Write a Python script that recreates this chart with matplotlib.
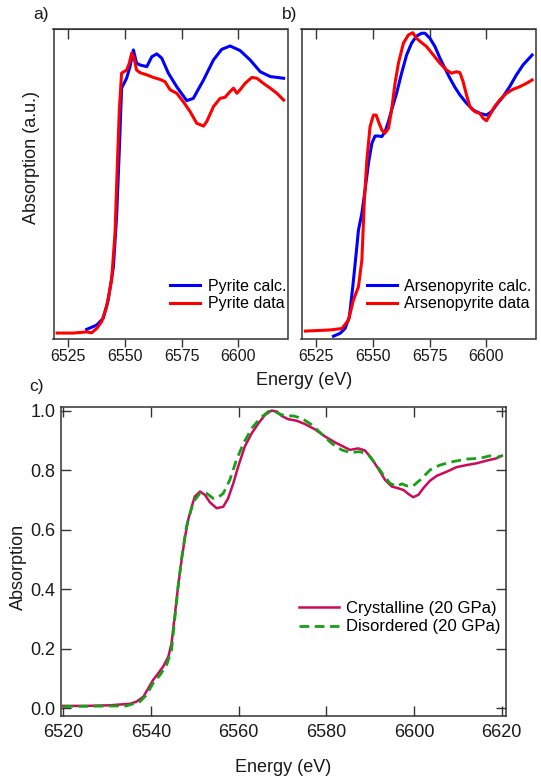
import matplotlib
matplotlib.use("Agg")
import matplotlib.pyplot as plt

plt.rcParams['font.family'] = ['Liberation Sans', 'DejaVu Sans']
plt.rcParams['lines.scale_dashes'] = False

# ---- panel a: pyrite ----
pyr_calc_E = [6533.1, 6537.5, 6540.4, 6542.6, 6544.9, 6546.3, 6547.5, 6548.5, 6550.7, 6552.2,
              6553.7, 6555.1, 6556.6, 6559.6, 6561.8, 6564.0, 6566.2, 6569.1, 6572.8, 6577.2,
              6580.1, 6584.6, 6589.0, 6592.6, 6596.3, 6600.7, 6605.1, 6609.6, 6614.0, 6619.9]
pyr_calc_y = [0.013, 0.028, 0.052, 0.117, 0.234, 0.411, 0.647, 0.865, 0.900, 0.941,
              1.000, 0.953, 0.947, 0.941, 0.976, 0.986, 0.971, 0.918, 0.870, 0.821,
              0.829, 0.894, 0.965, 1.002, 1.014, 0.998, 0.965, 0.923, 0.906, 0.900]

pyr_data_E = [6520.1, 6527.2, 6533.1, 6535.3, 6537.5, 6539.7, 6541.9, 6544.1, 6545.6, 6546.6,
              6547.5, 6548.5, 6550.7, 6551.9, 6552.9, 6554.0, 6555.1, 6556.6, 6559.6, 6562.5,
              6565.4, 6567.6, 6569.9, 6572.8, 6575.7, 6578.7, 6581.6, 6584.6, 6586.0, 6589.0,
              6591.9, 6594.1, 6596.3, 6597.8, 6599.3, 6600.7, 6602.9, 6605.9, 6608.1, 6611.0,
              6614.0, 6616.9, 6619.9]
pyr_data_y = [0.000, 0.000, 0.004, 0.001, 0.016, 0.040, 0.093, 0.187, 0.352, 0.588,
              0.788, 0.918, 0.929, 0.953, 0.988, 0.971, 0.929, 0.920, 0.912, 0.903,
              0.896, 0.888, 0.859, 0.847, 0.817, 0.782, 0.741, 0.731, 0.747, 0.800,
              0.829, 0.833, 0.853, 0.865, 0.847, 0.859, 0.882, 0.903, 0.900, 0.882,
              0.865, 0.847, 0.823]

# ---- panel b: arsenopyrite ----
ars_calc_E = [6532.6, 6535.5, 6537.7, 6539.6, 6541.1, 6542.6, 6543.6, 6545.1, 6546.5, 6548.0,
              6549.5, 6550.9, 6552.4, 6553.9, 6555.3, 6556.8, 6558.2, 6560.4, 6562.6, 6564.8,
              6567.0, 6569.2, 6571.4, 6572.9, 6575.1, 6577.3, 6579.5, 6581.7, 6583.9, 6586.1,
              6588.3, 6591.2, 6594.1, 6597.1, 6600.0, 6602.2, 6604.4, 6607.3, 6610.2, 6613.2,
              6616.1, 6620.1]
ars_calc_y = [-0.011, -0.001, 0.016, 0.058, 0.164, 0.282, 0.364, 0.423, 0.505, 0.600,
              0.670, 0.696, 0.696, 0.694, 0.711, 0.747, 0.788, 0.847, 0.918, 0.982,
              1.024, 1.049, 1.059, 1.059, 1.041, 1.012, 0.971, 0.935, 0.900, 0.868,
              0.841, 0.812, 0.788, 0.776, 0.770, 0.782, 0.806, 0.835, 0.870, 0.912,
              0.947, 0.982]

ars_data_E = [6520.2, 6531.2, 6536.3, 6539.2, 6541.4, 6543.6, 6545.1, 6546.2, 6547.3, 6548.7,
              6550.2, 6551.4, 6552.4, 6553.9, 6555.3, 6556.8, 6558.2, 6559.7, 6561.2, 6563.4,
              6565.6, 6567.5, 6569.2, 6571.4, 6573.6, 6576.6, 6579.5, 6582.4, 6584.6, 6586.8,
              6588.3, 6589.7, 6591.2, 6592.7, 6594.9, 6597.1, 6598.5, 6600.0, 6601.5, 6603.6,
              6605.8, 6608.8, 6611.7, 6614.6, 6617.6, 6620.1]
ars_data_y = [0.007, 0.011, 0.016, 0.046, 0.117, 0.164, 0.258, 0.470, 0.611, 0.729,
              0.770, 0.770, 0.747, 0.717, 0.706, 0.723, 0.788, 0.882, 0.953, 1.024,
              1.053, 1.061, 1.041, 1.026, 1.012, 0.982, 0.953, 0.929, 0.918, 0.923,
              0.920, 0.888, 0.841, 0.800, 0.782, 0.776, 0.759, 0.750, 0.770, 0.800,
              0.823, 0.847, 0.861, 0.870, 0.882, 0.894]

# ---- panel c: crystalline vs disordered at 20 GPa ----
cryst_E = [6520.0, 6525.3, 6530.6, 6535.2, 6536.7, 6538.3, 6539.4, 6540.5, 6541.7, 6542.8,
           6544.0, 6544.7, 6545.5, 6546.2, 6547.0, 6547.8, 6548.5, 6549.3, 6550.0, 6551.2,
           6552.3, 6553.5, 6555.0, 6556.5, 6557.6, 6558.8, 6559.9, 6561.4, 6563.0, 6564.5,
           6566.0, 6567.5, 6568.7, 6569.8, 6571.3, 6573.2, 6575.1, 6577.4, 6579.7, 6582.0,
           6583.9, 6585.4, 6587.3, 6588.8, 6590.3, 6591.9, 6593.4, 6594.9, 6596.4, 6597.6,
           6598.7, 6599.8, 6601.0, 6602.1, 6603.6, 6605.2, 6607.5, 6609.7, 6612.0, 6614.3,
           6616.6, 6618.9, 6620.0]
cryst_y = [0.008, 0.008, 0.010, 0.015, 0.022, 0.039, 0.067, 0.095, 0.118, 0.140,
           0.174, 0.218, 0.319, 0.409, 0.498, 0.577, 0.633, 0.677, 0.711, 0.728,
           0.717, 0.691, 0.672, 0.677, 0.705, 0.756, 0.812, 0.879, 0.924, 0.957,
           0.985, 1.000, 0.997, 0.982, 0.971, 0.966, 0.955, 0.937, 0.913, 0.893,
           0.879, 0.868, 0.873, 0.866, 0.840, 0.803, 0.767, 0.745, 0.739, 0.733,
           0.720, 0.709, 0.717, 0.739, 0.764, 0.781, 0.795, 0.810, 0.817, 0.823,
           0.832, 0.840, 0.848]

disord_E = [6520.0, 6534.4, 6537.5, 6539.0, 6540.5, 6542.1, 6543.6, 6544.7, 6545.5, 6546.2,
            6547.0, 6548.1, 6549.7, 6551.2, 6552.7, 6554.2, 6555.4, 6556.5, 6558.0, 6559.5,
            6561.1, 6563.0, 6564.9, 6566.8, 6567.9, 6569.0, 6570.6, 6572.5, 6574.4, 6576.7,
            6578.9, 6581.2, 6583.5, 6585.4, 6587.7, 6589.6, 6591.1, 6593.0, 6594.5, 6596.0,
            6597.2, 6598.3, 6599.8, 6601.4, 6603.7, 6605.9, 6609.0, 6612.0, 6615.1, 6617.3,
            6618.9, 6620.0]
disord_y = [0.006, 0.008, 0.022, 0.045, 0.084, 0.112, 0.146, 0.196, 0.308, 0.409,
            0.504, 0.610, 0.694, 0.722, 0.722, 0.705, 0.709, 0.722, 0.767, 0.834,
            0.890, 0.941, 0.974, 0.997, 1.000, 0.991, 0.982, 0.982, 0.974, 0.952,
            0.922, 0.890, 0.868, 0.859, 0.862, 0.851, 0.823, 0.784, 0.756, 0.745,
            0.754, 0.747, 0.747, 0.767, 0.801, 0.817, 0.829, 0.837, 0.840, 0.848,
            0.843, 0.848]

ab_ticks = [6525, 6550, 6575, 6600]
c_xticks = [6520, 6540, 6560, 6580, 6600, 6620]
c_yticks = [0.0, 0.2, 0.4, 0.6, 0.8, 1.0]

W, H = 541, 780
fig = plt.figure(figsize=(W / 100, H / 100), dpi=100)


def box(l, t, r, b):
    """Axes rectangle from pixel edges (origin top-left)."""
    return [l / W, 1 - b / H, (r - l) / W, (b - t) / H]


spine_col = '#333333'
text_col = '#1a1a1a'


def style_top_panel(ax):
    ax.set_xlim(6518.5, 6621.6)
    ax.set_ylim(-0.021, 1.074)
    ax.set_yticks([])
    ax.set_xticks(ab_ticks)
    ax.tick_params(axis='x', direction='out', length=6, width=1, color=spine_col,
                   labelsize=11.5, pad=1.5, labelcolor=text_col)
    top = ax.secondary_xaxis('top')
    top.set_xticks(ab_ticks)
    top.tick_params(direction='in', length=7, width=1, color=spine_col, labeltop=False)
    top.spines['top'].set_color(spine_col)
    for s in ax.spines.values():
        s.set_color(spine_col)
        s.set_linewidth(1.1)


legend_kw = dict(frameon=False, fontsize=11.5, handlelength=1.9, handletextpad=0.45,
                 labelspacing=0.15, borderpad=0, borderaxespad=0,
                 bbox_transform=fig.transFigure, loc='upper left')

ax_a = fig.add_axes(box(53.5, 29, 287.5, 339))
ax_a.plot(pyr_calc_E, pyr_calc_y, color='#0000ff', lw=2.2, label='Pyrite calc.')
ax_a.plot(pyr_data_E, pyr_data_y, color='#ff0000', lw=2.2, label='Pyrite data')
style_top_panel(ax_a)
ax_a.legend(bbox_to_anchor=(170 / W, 1 - 279 / H), **legend_kw)

ax_b = fig.add_axes(box(301.5, 29, 535.5, 339))
ax_b.plot(ars_calc_E, ars_calc_y, color='#0000ff', lw=2.2, label='Arsenopyrite calc.')
ax_b.plot(ars_data_E, ars_data_y, color='#ff0000', lw=2.2, label='Arsenopyrite data')
style_top_panel(ax_b)
ax_b.legend(bbox_to_anchor=(366.5 / W, 1 - 279 / H), **legend_kw)

fig.text(32 / W, 1 - 157 / H, 'Absorption (a.u.)', rotation=90, ha='center', va='center',
         fontsize=13, color=text_col)
fig.text(304 / W, 1 - 380 / H, 'Energy (eV)', ha='center', va='center', fontsize=13, color=text_col)
fig.text(41 / W, 1 - 15 / H, 'a)', ha='center', va='center', fontsize=12.5, color=text_col)
fig.text(289.5 / W, 1 - 15 / H, 'b)', ha='center', va='center', fontsize=12.5, color=text_col)
fig.text(36 / W, 1 - 386 / H, 'c)', ha='center', va='center', fontsize=12.5, color=text_col)

ax_c = fig.add_axes(box(61, 407.3, 505.7, 716))
ax_c.plot(cryst_E, cryst_y, color='#cc0a5c', lw=1.8, label='Crystalline (20 GPa)')
ax_c.plot(disord_E, disord_y, color='#17a017', lw=2.0, dashes=(7, 4),
          label='Disordered (20 GPa)')
ax_c.set_xlim(6519.5, 6620.9)
ax_c.set_ylim(-0.026, 1.011)
ax_c.set_xticks(c_xticks)
ax_c.set_yticks(c_yticks)
ax_c.set_yticklabels([f'{v:.1f}' for v in c_yticks])
ax_c.tick_params(axis='both', direction='in', length=7, width=1, color=spine_col,
                 top=True, right=True, labelsize=13, labelcolor=text_col)
ax_c.tick_params(axis='x', pad=6)
ax_c.tick_params(axis='y', pad=4)
for s in ax_c.spines.values():
    s.set_color(spine_col)
    s.set_linewidth(1.1)
ax_c.set_xlabel('Energy (eV)', fontsize=13, color=text_col, labelpad=13)
fig.text(18 / W, 1 - 567 / H, 'Absorption', rotation=90, ha='center', va='center',
         fontsize=13, color=text_col)
ax_c.legend(bbox_to_anchor=(299 / W, 1 - 601 / H), **{**legend_kw, 'fontsize': 12,
                                                       'handlelength': 2.4, 'labelspacing': 0.2})

fig.savefig('out.png', dpi=100)
